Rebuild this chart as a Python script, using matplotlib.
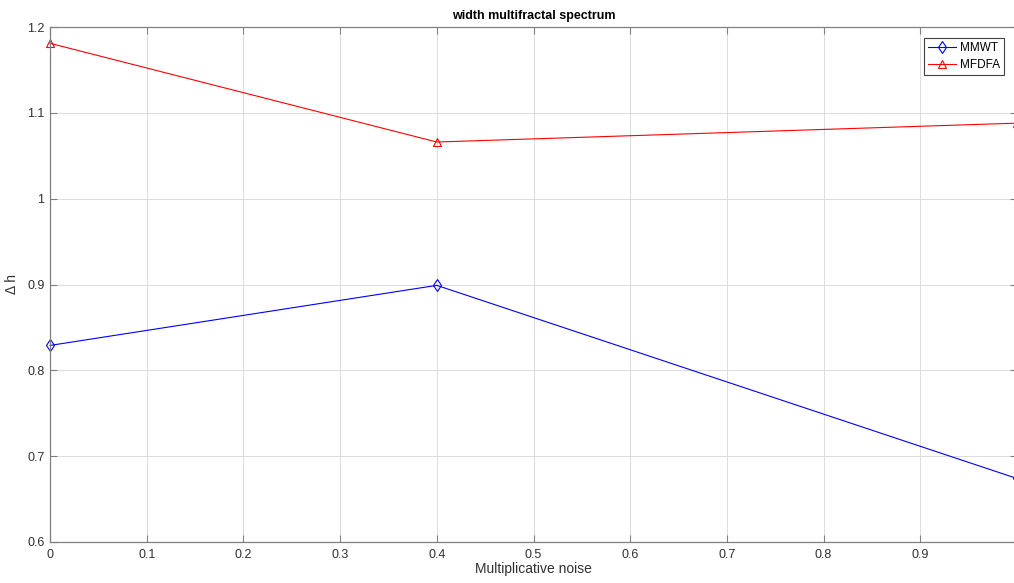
import numpy as np
import matplotlib.pyplot as plt

plt.rcParams['font.family'] = ['Liberation Sans', 'DejaVu Sans']

# данные
noise = [0, 0.4, 1.0]
mmwt = [0.829, 0.899, 0.674]
mfdfa = [1.181, 1.066, 1.088]
xticks = [0, 0.1, 0.2, 0.3, 0.4, 0.5, 0.6, 0.7, 0.8, 0.9, 1.0]
yticks = [0.6, 0.7, 0.8, 0.9, 1.0, 1.1, 1.2]
xtick_labels = ['0', '0.1', '0.2', '0.3', '0.4', '0.5', '0.6', '0.7', '0.8', '0.9', '1']
ytick_labels = ['0.6', '0.7', '0.8', '0.9', '1', '1.1', '1.2']

fig = plt.figure(figsize=(10.14, 5.83), dpi=100)
ax = fig.add_axes([50 / 1014, 41 / 583, 967 / 1014, 515 / 583])

ax.plot(noise, mmwt, color='blue', lw=0.8, marker='d', ms=6,
        mfc='none', mec='blue', mew=0.8, label='MMWT', clip_on=False)
ax.plot(noise, mfdfa, color='red', lw=0.8, marker='^', ms=6,
        mfc='none', mec='red', mew=0.8, label='MFDFA', clip_on=False)

ax.set_xlim(0, 1)
ax.set_ylim(0.6, 1.2)
ax.set_xticks(xticks)
ax.set_xticklabels(xtick_labels)
ax.set_yticks(yticks)
ax.set_yticklabels(ytick_labels)
ax.tick_params(direction='in', length=5, width=0.8, color='#808080',
               labelsize=9, labelcolor='#303030', top=True, right=True)
ax.tick_params(axis='x', pad=5)
ax.tick_params(axis='y', pad=4)
ax.grid(True, color='#dcdcdc', linewidth=0.7)
for s in ax.spines.values():
    s.set_color('#808080')
    s.set_linewidth(0.9)

ax.set_title('width multifractal spectrum', fontsize=9, fontweight='bold', pad=6)
ax.set_xlabel('Multiplicative noise', fontsize=10, color='#303030', labelpad=1)
ax.set_ylabel('Δ h', fontsize=10, color='#303030', labelpad=6)

leg = ax.legend(loc='upper right', bbox_to_anchor=(0.9866, 0.979), fontsize=8.5,
                fancybox=False, framealpha=1, edgecolor='#404040',
                handlelength=2.4, borderpad=0.35, labelspacing=0.4,
                handletextpad=0.3, borderaxespad=0)
leg.get_frame().set_linewidth(0.8)

plt.savefig('out.png', dpi=100)
